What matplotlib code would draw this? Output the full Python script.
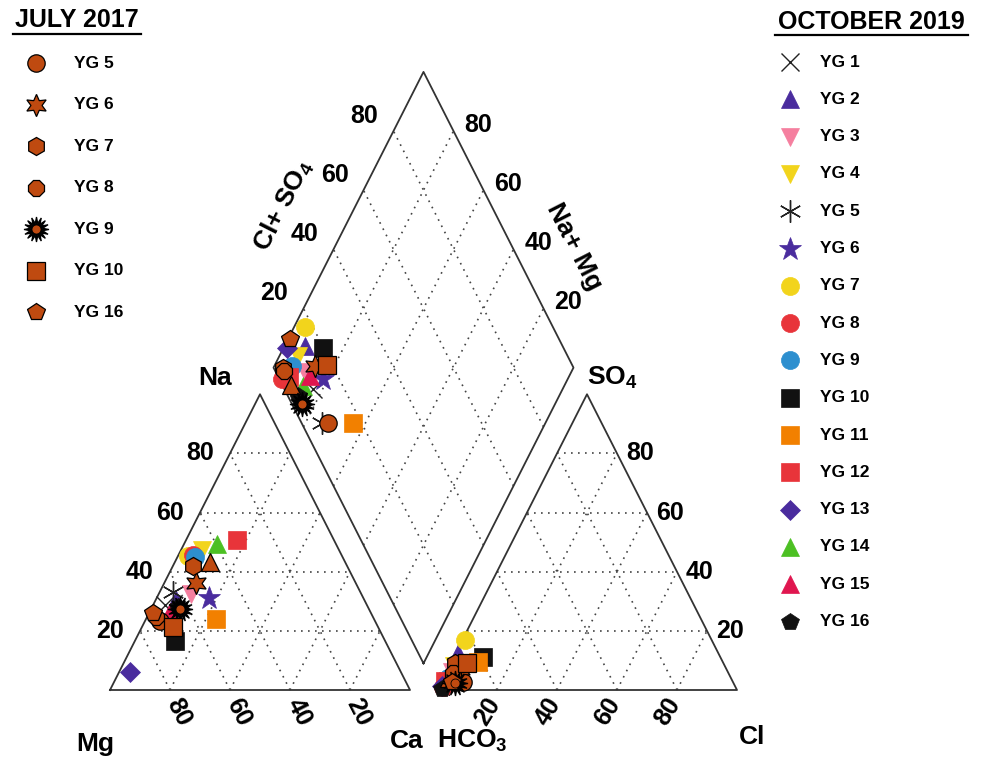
import numpy as np
import matplotlib
matplotlib.use("Agg")
import matplotlib.pyplot as plt

plt.rcParams['font.family'] = ['Liberation Sans', 'DejaVu Sans']
plt.rcParams['font.weight'] = 'bold'
plt.rcParams['mathtext.fontset'] = 'custom'
plt.rcParams['mathtext.rm'] = 'Liberation Sans:bold'
plt.rcParams['mathtext.it'] = 'Liberation Sans:bold'
plt.rcParams['mathtext.bf'] = 'Liberation Sans:bold'

# ---- October 2019 samples (percent of meq) ----
oct_names = ["YG 1", "YG 2", "YG 3", "YG 4", "YG 5", "YG 6", "YG 7", "YG 8",
             "YG 9", "YG 10", "YG 11", "YG 12", "YG 13", "YG 14", "YG 15", "YG 16"]
oct_na = [28.8, 30.5, 32.5, 47.2, 33.3, 31.1, 45.2, 45.8, 45.1, 16.4, 24.0, 50.6, 6.1, 49.5, 26.5, 28.1]
oct_ca = [3.9, 6.7, 10.6, 7.0, 4.4, 17.3, 3.5, 4.9, 5.8, 13.5, 23.3, 16.9, 3.6, 11.0, 6.7, 8.6]
oct_so4 = [3.0, 12.4, 6.0, 8.0, 2.0, 9.0, 16.9, 1.0, 4.0, 11.3, 9.6, 3.0, 1.5, 5.0, 4.0, 0.5]
oct_cl = [2.0, 0.9, 2.0, 1.5, 3.0, 3.0, 0.9, 1.5, 1.5, 9.8, 9.0, 1.0, 0.8, 2.0, 2.5, 1.5]
oct_namg = [83.2, 93.2, 88.7, 93.7, 74.4, 81.4, 96.3, 95.3, 94.2, 86.8, 64.1, 93.2, 99.0, 87.0, 86.4, 86.9]
oct_clso4 = [9.6, 14.2, 9.7, 10.3, 6.8, 14.6, 17.3, 0.7, 6.4, 20.0, 17.3, 3.6, 7.8, 6.8, 10.8, 3.5]

# ---- July 2017 samples ----
jul_names = ["YG 5", "YG 6", "YG 7", "YG 8", "YG 9", "YG 10", "YG 16"]
jul_na = [23.2, 36.2, 42.0, 24.7, 27.4, 21.3, 26.2]
jul_ca = [5.1, 10.6, 6.8, 2.9, 9.6, 10.5, 1.1]
jul_so4 = [2.8, 7.0, 9.1, 5.7, 2.3, 9.1, 2.8]
jul_cl = [7.4, 4.0, 1.5, 2.6, 4.9, 5.4, 3.5]
jul_namg = [72.4, 86.5, 96.9, 95.9, 84.4, 82.8, 99.5]
jul_clso4 = [9.0, 14.1, 3.1, 2.9, 3.2, 18.2, 10.3]

# brown triangle that is plotted but not listed in the legend
extra_na, extra_ca, extra_so4, extra_cl = [43.2], [11.7], [4.0], [2.0]
extra_namg, extra_clso4 = [91.4], [2.8]

ticks = [20, 40, 60, 80]

BROWN = '#bf4a10'
oct_style = [
    dict(marker='x', color='#222222', ms=12.5, mew=1.0),
    dict(marker='^', color='#4a2c9e', ms=13),
    dict(marker='v', color='#f57f9f', ms=13),
    dict(marker='v', color='#f2d41c', ms=13),
    dict(marker=(6, 2, 0), color='#222222', ms=16, mew=1.0),
    dict(marker='*', color='#4a2c9e', ms=17),
    dict(marker='o', color='#f2d41c', ms=13),
    dict(marker='o', color='#e8343a', ms=13),
    dict(marker='o', color='#2d8fcf', ms=13),
    dict(marker='s', color='#111111', ms=13.5),
    dict(marker='s', color='#f28000', ms=13.5),
    dict(marker='s', color='#e8343a', ms=13.5),
    dict(marker='D', color='#4a2c9e', ms=10.5),
    dict(marker='^', color='#4cc023', ms=13),
    dict(marker='^', color='#e0164f', ms=13),
    dict(marker='p', color='#111111', ms=13),
]
jul_style = [
    dict(marker='o', ms=12.5),
    dict(marker=(6, 1, 0), ms=16),
    dict(marker='h', ms=13),
    dict(marker='8', ms=12.5),
    dict(marker=(16, 1, 0), ms=18),
    dict(marker='s', ms=12.5),
    dict(marker='p', ms=13),
]

GAP = 0.09
H = np.sqrt(3) / 2
SX, SY = 300.0, 341.5          # pixels per unit
X0, Y0 = 110.0, 690.0          # pixel of Mg corner


def cation_xy(ca, na):
    ca, na = np.asarray(ca) / 100, np.asarray(na) / 100
    return ca + na / 2, na * H


def anion_xy(cl, so4):
    cl, so4 = np.asarray(cl) / 100, np.asarray(so4) / 100
    return 1 + GAP + cl + so4 / 2, so4 * H


def diamond_xy(namg, clso4):
    ca = 1 - np.asarray(namg) / 100
    hco3 = 1 - np.asarray(clso4) / 100
    return (ca + 2 + GAP - hco3) / 2, np.sqrt(3) * (2 + GAP - hco3 - ca) / 2


def P(px, py):
    return (px - X0) / SX, (Y0 - py) / SY


fig = plt.figure(figsize=(9.84, 7.57), dpi=100)
ax = fig.add_axes([0, 0, 1, 1])
ax.set_xlim(-X0 / SX, (984 - X0) / SX)
ax.set_ylim(-(757 - Y0) / SY, Y0 / SY)
ax.axis('off')

edge = dict(color='#333333', lw=1.3, zorder=2)
grid = dict(color='#444444', lw=1.2, ls=(0, (1, 3.2)), zorder=1)

# outlines
ax.plot([0, 1, 0.5, 0], [0, 0, H, 0], **edge)
ax.plot([1 + GAP, 2 + GAP, 1.5 + GAP, 1 + GAP], [0, 0, H, 0], **edge)
dx, dy = 1 + GAP / 2, GAP * H
ax.plot([dx, dx + 0.5, dx, dx - 0.5, dx], [dy, dy + H, dy + 2 * H, dy + H, dy], **edge)

# grids
for v in ticks:
    for a, b in [(cation_xy(0, v), cation_xy(100 - v, v)),
                 (cation_xy(v, 0), cation_xy(v, 100 - v)),
                 (cation_xy(100 - v, 0), cation_xy(0, 100 - v)),
                 (anion_xy(0, v), anion_xy(100 - v, v)),
                 (anion_xy(v, 0), anion_xy(v, 100 - v)),
                 (anion_xy(100 - v, 0), anion_xy(0, 100 - v)),
                 (diamond_xy(v, 0), diamond_xy(v, 100)),
                 (diamond_xy(0, v), diamond_xy(100, v))]:
        ax.plot([a[0], b[0]], [a[1], b[1]], **grid)

# tick labels
tk = dict(fontsize=18, fontweight='bold', textcoords='offset pixels', ha='center', va='center')
for v in ticks:
    ax.annotate(str(v), cation_xy(0, v), xytext=(-30, 0), **tk)
    ax.annotate(str(v), cation_xy(100 - v, 0), xytext=(9, -22), rotation=-63, **tk)
    ax.annotate(str(v), anion_xy(v, 0), xytext=(-9, -22), rotation=58, **tk)
    ax.annotate(str(v), anion_xy(100 - v, v), xytext=(23, 0), **tk)
    ax.annotate(str(v), diamond_xy(100, v), xytext=(-29, 15), **tk)
    ax.annotate(str(v), diamond_xy(v, 100), xytext=(25, 6), **tk)

# axis names
lab = dict(fontsize=19, fontweight='bold', ha='center', va='center')
ax.text(*P(215, 378), 'Na', **lab)
ax.text(*P(612, 378), 'SO$_4$', **lab)
ax.text(*P(95, 744), 'Mg', **lab)
ax.text(*P(407, 741), 'Ca', **lab)
ax.text(*P(472, 741), 'HCO$_3$', **lab)
ax.text(*P(752, 737), 'Cl', **lab)
ax.text(*P(283, 205), 'Cl+ SO$_4$', rotation=63, **lab)
ax.text(*P(574, 247), 'Na+ Mg', rotation=-63, **lab)


def draw(st, xy, z, jul=False):
    x, y = xy
    if jul:
        burst = st['marker'] == (16, 1, 0)
        ax.plot(x, y, ls='none', marker=st['marker'], ms=st['ms'],
                mfc='black' if burst else BROWN, mec='black', mew=0.9,
                zorder=z, clip_on=False)
        if burst:
            ax.plot(x, y, ls='none', marker='o', ms=6.5, mfc=BROWN, mec='black',
                    mew=0.6, zorder=z + 0.1, clip_on=False)
    else:
        ax.plot(x, y, ls='none', marker=st['marker'], ms=st['ms'],
                mfc=st['color'], mec=st['color'], mew=st.get('mew', 0.5),
                zorder=z, clip_on=False)


# October 2019 data
for i, st in enumerate(oct_style):
    draw(st, cation_xy(oct_ca[i], oct_na[i]), 3)
    draw(st, anion_xy(oct_cl[i], oct_so4[i]), 3)
    draw(st, diamond_xy(oct_namg[i], oct_clso4[i]), 3)

# July 2017 data
tri = dict(marker='^', ms=13)
draw(tri, cation_xy(extra_ca, extra_na), 4, jul=True)
draw(tri, anion_xy(extra_cl, extra_so4), 4, jul=True)
draw(tri, diamond_xy(extra_namg, extra_clso4), 4, jul=True)
for i, st in enumerate(jul_style):
    draw(st, cation_xy(jul_ca[i], jul_na[i]), 4, jul=True)
    draw(st, anion_xy(jul_cl[i], jul_so4[i]), 4, jul=True)
    draw(st, diamond_xy(jul_namg[i], jul_clso4[i]), 4, jul=True)

# legends
ax.text(*P(77, 20), 'JULY 2017', fontsize=18, fontweight='bold', ha='center', va='center')
ax.plot(*zip(P(13, 34), P(141, 34)), color='black', lw=1.6)
for i, (name, st) in enumerate(zip(jul_names, jul_style)):
    y = 63 + 41.5 * i
    draw(st, P(36, y), 5, jul=True)
    ax.text(*P(74, y), name, fontsize=12.5, fontweight='bold', ha='left', va='center')

ax.text(*P(871, 22), 'OCTOBER 2019', fontsize=18, fontweight='bold', ha='center', va='center')
ax.plot(*zip(P(775, 35), P(968, 35)), color='black', lw=1.6)
for i, (name, st) in enumerate(zip(oct_names, oct_style)):
    y = 62 + 37.3 * i
    draw(st, P(790, y), 5)
    ax.text(*P(820, y), name, fontsize=12.5, fontweight='bold', ha='left', va='center')

fig.savefig('out.png', dpi=100)
